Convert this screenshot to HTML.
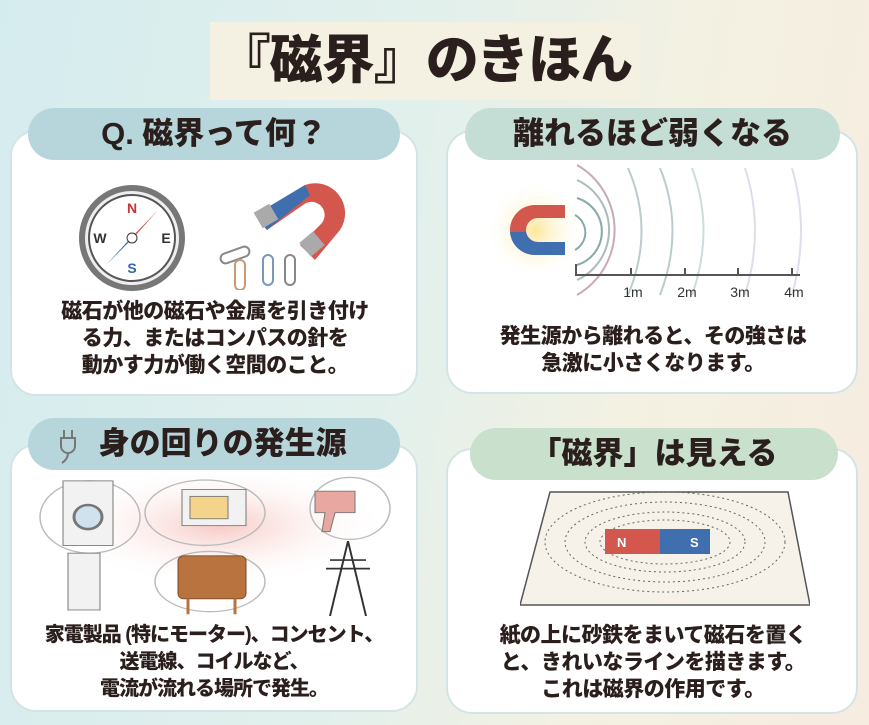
<!DOCTYPE html>
<html><head><meta charset="utf-8"><style>
*{margin:0;padding:0;box-sizing:border-box}
body{width:869px;height:725px;overflow:hidden;position:relative;font-family:"Liberation Sans","Noto Sans CJK JP",sans-serif;font-weight:bold;color:#2a1f1c;
background:linear-gradient(100deg,#d5ecef 0%,#e2f0ec 45%,#f3f1e2 70%,#f6ece0 100%);}
.title{position:absolute;left:210px;top:22px;width:430px;height:78px;background:#f4f1e2;font-size:53px;line-height:78px;text-align:center;font-weight:900;white-space:nowrap;letter-spacing:-1px}
.card{position:absolute;background:#fff;border:2px solid #d3e4e6;border-radius:26px}
.pill{position:absolute;border-radius:26px;text-align:center;font-size:31px;font-weight:900;white-space:nowrap}
.txt{position:absolute;text-align:center;font-size:21px;line-height:27px;font-weight:900;white-space:nowrap;letter-spacing:-0.5px}
svg{position:absolute}
</style></head><body>
<div class="title">『磁界』のきほん</div>

<div class="card" style="left:10px;top:130px;width:408px;height:266px"></div>
<div class="pill" style="left:28px;top:108px;width:372px;height:52px;line-height:52px;background:#b7d6dc">Q. 磁界って何？</div>
<div class="card" style="left:446px;top:130px;width:412px;height:264px"></div>
<div class="pill" style="left:465px;top:108px;width:375px;height:52px;line-height:52px;background:#c4ded6">離れるほど弱くなる</div>
<div class="card" style="left:10px;top:444px;width:408px;height:268px"></div>
<div class="pill" style="left:28px;top:418px;width:372px;height:52px;line-height:52px;background:#b7d6dc">&nbsp;&nbsp;身の回りの発生源</div>
<div class="card" style="left:446px;top:448px;width:412px;height:266px"></div>
<div class="pill" style="left:470px;top:428px;width:368px;height:52px;line-height:52px;background:#c8e0cc">「磁界」は見える</div>

<svg style="left:58px;top:428px" width="24" height="36" viewBox="0 0 24 36"><path d="M6 2v8M14 2v8M3 10h14v8a7 7 0 0 1-14 0zM10 25 q0 6 -6 10" fill="none" stroke="#777" stroke-width="2"/></svg>

<svg style="left:70px;top:185px" width="120" height="110" viewBox="0 0 120 110">
<circle cx="62" cy="53" r="50" fill="#eee" stroke="#777" stroke-width="6"/>
<circle cx="62" cy="53" r="43" fill="#fff" stroke="#555" stroke-width="2"/>
<polygon points="88,25 66,50 58,56" fill="#d4574e"/><polygon points="36,80 58,56 66,50" fill="#3f6fae"/>
<circle cx="62" cy="53" r="5" fill="#fff" stroke="#333"/>
<text x="62" y="28" font-size="14" text-anchor="middle" fill="#c33">N</text><text x="62" y="88" font-size="14" text-anchor="middle" fill="#36a">S</text>
<text x="30" y="58" font-size="14" text-anchor="middle" fill="#333">W</text><text x="96" y="58" font-size="14" text-anchor="middle" fill="#333">E</text>
</svg>
<svg style="left:215px;top:175px" width="140" height="115" viewBox="0 0 140 115">
<path d="M40 40 L90 10 A30 30 0 0 1 125 55 L100 85 L85 70 L105 50 A12 12 0 0 0 88 30 L52 55 Z" fill="#d4574e"/>
<path d="M40 40 L90 10 L95 20 L52 55 Z" fill="#3f6fae"/>
<rect x="42" y="32" width="18" height="18" fill="#aaa" transform="rotate(-30 51 41)"/>
<rect x="88" y="60" width="18" height="18" fill="#aaa" transform="rotate(-40 97 69)"/>
<g fill="none" stroke="#888" stroke-width="2"><rect x="5" y="75" width="30" height="10" rx="5" transform="rotate(-20 20 80)"/><rect x="20" y="85" width="10" height="30" rx="5" stroke="#c97"/><rect x="48" y="80" width="10" height="30" rx="5" stroke="#79b"/><rect x="70" y="80" width="10" height="30" rx="5"/></g>
</svg>
<div class="txt" style="left:20px;top:298px;width:390px">磁石が他の磁石や金属を引き付け<br>る力、またはコンパスの針を<br>動かす力が働く空間のこと。</div>

<svg style="left:480px;top:160px" width="340" height="150" viewBox="0 0 340 150">
<defs><radialGradient id="g"><stop offset="0" stop-color="#fbe79a"/><stop offset="1" stop-color="#fff" stop-opacity="0"/></radialGradient></defs>
<circle cx="55" cy="70" r="50" fill="url(#g)"/>
<path d="M85 45 L55 45 A25 25 0 0 0 55 95 L85 95 L85 82 L58 82 A12 12 0 0 1 58 58 L85 58Z" fill="#d4574e"/>
<path d="M30 72 A25 25 0 0 0 55 95 L85 95 L85 82 L58 82 A12 12 0 0 1 46 72Z" fill="#3f6fae"/>
<g fill="none" stroke-width="2"><path d="M95 55 A20 20 0 0 1 95 90" stroke="#8aa"/><path d="M97 38 A35 35 0 0 1 97 105" stroke="#8aa"/><path d="M97 20 A55 55 0 0 1 97 120" stroke="#abb"/><path d="M97 5 A75 75 0 0 1 97 135" stroke="#c9a9b5"/><path d="M148 8 Q175 70 148 135" stroke="#bcc"/><path d="M180 8 Q205 70 180 135" stroke="#bcc"/><path d="M212 8 Q235 70 212 135" stroke="#cdd"/><path d="M265 8 Q285 70 265 135" stroke="#dde"/><path d="M312 8 Q330 70 312 135" stroke="#dde"/></g>
<path d="M96 104 V115 H320 M151 108V115 M205 108V115 M258 108V115 M312 108V115" stroke="#555" stroke-width="2" fill="none"/>
<g font-size="14" fill="#333" text-anchor="middle" font-weight="normal"><text x="153" y="137">1m</text><text x="207" y="137">2m</text><text x="260" y="137">3m</text><text x="314" y="137">4m</text></g>
</svg>
<div class="txt" style="left:456px;top:323px;width:394px">発生源から離れると、その強さは<br>急激に小さくなります。</div>

<svg style="left:30px;top:474px" width="370" height="142" viewBox="0 0 370 165" preserveAspectRatio="none">
<defs><radialGradient id="p"><stop offset="0" stop-color="#f6c9c4"/><stop offset="1" stop-color="#fff" stop-opacity="0"/></radialGradient></defs>
<ellipse cx="190" cy="60" rx="170" ry="70" fill="url(#p)"/>
<g fill="none" stroke="#bbb" stroke-width="1.5"><ellipse cx="60" cy="50" rx="50" ry="42"/><ellipse cx="175" cy="45" rx="60" ry="38"/><ellipse cx="320" cy="40" rx="40" ry="36"/><ellipse cx="180" cy="125" rx="55" ry="35"/></g>
<rect x="33" y="8" width="50" height="75" fill="#f2f2f2" stroke="#777"/><circle cx="58" cy="50" r="14" fill="#cfe2ee" stroke="#777" stroke-width="3"/>
<rect x="152" y="18" width="64" height="42" fill="#f2f2f2" stroke="#777"/><rect x="160" y="26" width="38" height="26" fill="#f4d48a" stroke="#777"/>
<path d="M285 20 h40 v25 h-20 l-5 22 h-8 l3 -22 h-10z" fill="#e9a7a2" stroke="#777"/>
<rect x="38" y="92" width="32" height="66" fill="#f2f2f2" stroke="#777"/>
<rect x="148" y="95" width="68" height="50" rx="6" fill="#b8733f" stroke="#7a4a28"/><path d="M158 145 v18 M205 145 v18" stroke="#b8733f" stroke-width="3"/>
<path d="M318 78 L300 165 M318 78 L336 165 M300 100 H336 M296 110 H340" stroke="#333" stroke-width="2" fill="none"/>
</svg>
<div class="txt" style="left:18px;top:622px;width:392px;font-size:20px;letter-spacing:-1px">家電製品 (特にモーター)、コンセント、<br>送電線、コイルなど、<br>電流が流れる場所で発生。</div>

<svg style="left:520px;top:487px" width="290" height="120" viewBox="0 0 290 120">
<polygon points="30,5 268,5 290,118 0,118" fill="#f6f2ea" stroke="#555" stroke-width="1.5"/>
<g fill="none" stroke="#666" stroke-width="1" stroke-dasharray="2 3"><ellipse cx="145" cy="55" rx="100" ry="40"/><ellipse cx="145" cy="55" rx="80" ry="30"/><ellipse cx="145" cy="55" rx="120" ry="50"/><ellipse cx="145" cy="55" rx="65" ry="22"/></g>
<rect x="85" y="42" width="55" height="25" fill="#d4574e"/><rect x="140" y="42" width="50" height="25" fill="#3f6fae"/>
<text x="97" y="60" font-size="13" fill="#fff">N</text><text x="170" y="60" font-size="13" fill="#fff">S</text>
</svg>
<div class="txt" style="left:456px;top:622px;width:394px">紙の上に砂鉄をまいて磁石を置く<br>と、きれいなラインを描きます。<br>これは磁界の作用です。</div>
</body></html>
